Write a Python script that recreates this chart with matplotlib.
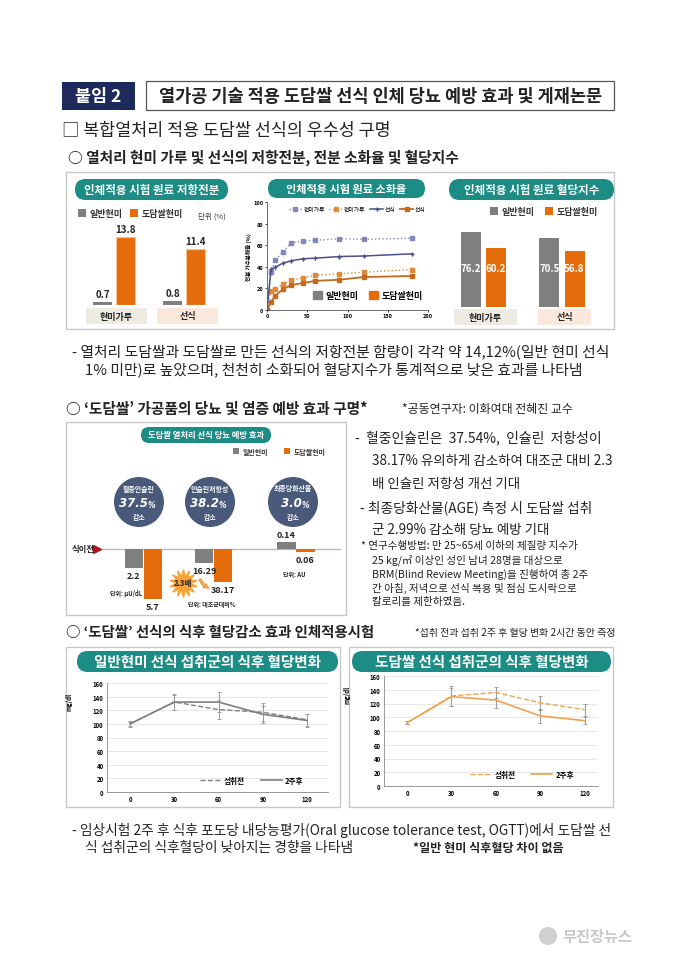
import matplotlib
matplotlib.use("Agg")
import matplotlib.pyplot as plt
from matplotlib.patches import FancyBboxPatch, Rectangle, Circle, Patch
from matplotlib.lines import Line2D

plt.rcParams['font.family'] = ['Noto Sans CJK KR', 'DejaVu Sans']

W, H = 680, 962
TEAL = '#1c8c84'
GRAY = '#7f7f7f'
ORANGE = '#e46c0a'
NAVY = '#1f2a5c'
CIRC = '#48597a'
DARK = '#222222'

# ---- data ----
rs_groups = ['현미가루', '선식']
rs_normal = [0.7, 0.8]
rs_dodam = [13.8, 11.4]

dig_t = [0, 5, 10, 20, 30, 45, 60, 90, 120, 180]
dig_powder_normal = [0, 35, 46, 54, 62, 64, 64.5, 66, 65.5, 66.5]
dig_sunsik_normal = [0, 38, 39.5, 43.5, 45.5, 47.5, 48, 49.5, 50, 52]
dig_powder_dodam = [0, 18, 19, 24, 27.5, 30, 32, 33.5, 35, 37.5]
dig_sunsik_dodam = [0, 7.5, 13, 19.5, 23, 25, 27, 28, 30.5, 31.5]

gi_groups = ['현미가루', '선식']
gi_normal = [76.2, 70.5]
gi_dodam = [60.2, 56.8]

eff_names = ['혈중인슐린', '인슐린저항성', '최종당화산물']
eff_pct = ['37.5', '38.2', '3.0']
eff_normal = [-2.2, -16.29, 0.14]
eff_dodam = [-5.7, -38.17, -0.06]
eff_units = ['단위: μU/dL', '단위: 대조군대비%', '단위: AU']

ogtt_t = ['0', '30', '60', '90', '120']
ogtt_n_before = [100, 132, 121, 117, 106]
ogtt_n_before_err = [3, 11, 14, 13, 9]
ogtt_n_after = [100, 132, 132, 114, 105]
ogtt_n_after_err = [4, 12, 15, 12, 9]
ogtt_d_before = [92, 131, 136, 121, 111]
ogtt_d_before_err = [2, 14, 8, 10, 9]
ogtt_d_after = [92, 130, 125, 102, 95]
ogtt_d_after_err = [2, 13, 12, 10, 5]

fig = plt.figure(figsize=(6.8, 9.62), dpi=100)
bg = fig.add_axes([0, 0, 1, 1])
bg.set_xlim(0, W)
bg.set_ylim(H, 0)
bg.axis('off')


def pax(x, y, w, h):
    ax = fig.add_axes([x / W, 1 - (y + h) / H, w / W, h / H])
    ax.set_facecolor('none')
    return ax


def pill(x0, y0, x1, y1, text, fs):
    r = (y1 - y0) / 2
    bg.add_patch(FancyBboxPatch((x0, y0), x1 - x0, y1 - y0,
                                boxstyle=f"round,pad=0,rounding_size={r}",
                                fc=TEAL, ec='none'))
    bg.text((x0 + x1) / 2, (y0 + y1) / 2, text, color='white', fontsize=fs,
            fontweight='bold', ha='center', va='center')


def box(x0, y0, x1, y1, ec='#c8c8c8', lw=1.0, fc='none'):
    bg.add_patch(Rectangle((x0, y0), x1 - x0, y1 - y0, fc=fc, ec=ec, lw=lw))


def legend_sq(x, y, color, label, fs, size=8):
    bg.add_patch(Rectangle((x, y - size / 2), size, size, fc=color, ec='none'))
    bg.text(x + size + 4, y, label, fontsize=fs, fontweight='bold', color='#333333',
            ha='left', va='center')


def txt(x, y, s, fs, **kw):
    kw.setdefault('ha', 'left')
    kw.setdefault('va', 'center')
    kw.setdefault('color', DARK)
    bg.text(x, y, s, fontsize=fs, **kw)


# ---- header ----
bg.add_patch(Rectangle((62, 83), 73, 28, fc=NAVY, ec='none'))
txt(98.5, 97, '붙임 2', 12.5, color='white', fontweight='bold', ha='center')
box(146, 82, 614, 111, ec='#555555', lw=0.9, fc='white')
txt(381, 96.5, '열가공 기술 적용 도담쌀 선식 인체 당뇨 예방 효과 및 게재논문', 12.6,
    fontweight='bold', ha='center')

txt(62, 131, '□ 복합열처리 적용 도담쌀 선식의 우수성 구명', 12.5)
txt(68, 158, '○ 열처리 현미 가루 및 선식의 저항전분, 전분 소화율 및 혈당지수', 10.6,
    fontweight='bold')

# ---- panel 1 ----
box(66, 173, 614, 330)

# resistant starch
pill(75, 180, 228, 201, '인체적용 시험 원료 저항전분', 8.3)
legend_sq(78, 214, GRAY, '일반현미', 6.5)
legend_sq(130, 214, ORANGE, '도담쌀현미', 6.5)
txt(198, 217, '단위 (%)', 5.5, color='#333333')
ax1 = pax(80, 225, 140, 81)
xs = range(len(rs_groups))
b1 = ax1.bar([x - 0.165 for x in xs], rs_normal, width=0.27, color=GRAY)
b2 = ax1.bar([x + 0.165 for x in xs], rs_dodam, width=0.27, color=ORANGE,
             edgecolor='#f5c49a', lw=0.8)
for bars, vals in ((b1, rs_normal), (b2, rs_dodam)):
    for b, v in zip(bars, vals):
        ax1.annotate(f'{v}', (b.get_x() + b.get_width() / 2, v), xytext=(0, 2),
                     textcoords='offset points', ha='center', va='bottom',
                     fontsize=7, fontweight='bold', color=DARK)
ax1.set_xlim(-0.49, 1.51)
ax1.set_ylim(0, 16.4)
ax1.axis('off')
ax1.axhline(0, color='#bbbbbb', lw=0.8)
box(86, 309, 147, 325, ec='none', fc='#eeebe2')
box(157, 309, 218, 325, ec='none', fc='#fbe8dd')
txt(116.5, 317, rs_groups[0], 6.5, ha='center', fontweight='bold')
txt(187.5, 317, rs_groups[1], 6.5, ha='center', fontweight='bold')

# digestibility
pill(268, 180, 425, 199, '인체적용 시험 원료 소화율', 8.0)
ax2 = pax(267, 203, 161, 108)
l1, = ax2.plot(dig_t, dig_powder_normal, ls=':', color='#8587bd', marker='s',
               ms=2.5, lw=1.0)
l2, = ax2.plot(dig_t, dig_powder_dodam, ls=':', color='#e0893a', marker='s',
               ms=2.5, lw=1.0)
ax2.errorbar(dig_t, dig_sunsik_normal, yerr=2, color='#4d4f8c', marker='+',
             ms=3, lw=1.1, elinewidth=0.6, capsize=0)
l4, = ax2.plot(dig_t, dig_sunsik_dodam, ls='-', color='#c46a1e', marker='s',
               ms=2.5, lw=1.3)
ax2.set_xlim(0, 200)
ax2.set_ylim(0, 100)
ax2.set_xticks([0, 50, 100, 150, 200])
ax2.set_yticks([0, 20, 40, 60, 80, 100])
ax2.tick_params(labelsize=4, length=1.5, width=0.5, pad=1)
for lab in ax2.get_xticklabels() + ax2.get_yticklabels():
    lab.set_fontweight('bold')
for s in ['top', 'right']:
    ax2.spines[s].set_visible(False)
for s in ['left', 'bottom']:
    ax2.spines[s].set_color('#555555')
    ax2.spines[s].set_linewidth(0.6)
ax2.set_ylabel('전분 가수분해율 (%)', fontsize=4, fontweight='bold', labelpad=1)
leg1 = ax2.legend([l1, l2, Line2D([], [], color='#4d4f8c', marker='+', ms=3, lw=1.1), l4],
                  ['현미가루', '현미가루', '선식', '선식'], loc='upper center',
                  bbox_to_anchor=(0.56, 1.0), ncol=4, fontsize=4.2, frameon=False,
                  handlelength=2.2, columnspacing=0.8, handletextpad=0.3)
ax2.add_artist(leg1)
ax2.legend([Patch(color=GRAY), Patch(color=ORANGE)], ['일반현미', '도담쌀현미'],
           loc='lower right', bbox_to_anchor=(1.02, 0.02), ncol=2,
           prop={'size': 6.5, 'weight': 'bold'}, frameon=False,
           handlelength=1.0, handleheight=1.0, columnspacing=1.2, handletextpad=0.4)

# glycemic index
pill(449, 180, 614, 201, '인체적용 시험 원료 혈당지수', 8.3)
legend_sq(490, 212, GRAY, '일반현미', 6.5)
legend_sq(545, 212, ORANGE, '도담쌀현미', 6.5)
ax3 = pax(452, 220, 148, 88)
xs = range(len(gi_groups))
g1 = ax3.bar([x - 0.16 for x in xs], gi_normal, width=0.255, color=GRAY)
g2 = ax3.bar([x + 0.16 for x in xs], gi_dodam, width=0.255, color=ORANGE)
for bars, vals in ((g1, gi_normal), (g2, gi_dodam)):
    for b, v in zip(bars, vals):
        ax3.text(b.get_x() + b.get_width() / 2, 40, f'{v}', ha='center',
                 va='center', fontsize=7, fontweight='bold', color='white')
ax3.set_xlim(-0.40, 1.484)
ax3.set_ylim(0, 89.8)
ax3.axis('off')
box(454, 310, 517, 326, ec='none', fc='#eeebe2')
box(538, 310, 591, 326, ec='none', fc='#fbe8dd')
txt(485.5, 318, gi_groups[0], 6.5, ha='center', fontweight='bold')
txt(564.5, 318, gi_groups[1], 6.5, ha='center', fontweight='bold')

txt(72, 352, '- 열처리 도담쌀과 도담쌀로 만든 선식의 저항전분 함량이 각각 약 14,12%(일반 현미 선식', 10.7)
txt(85, 370, '1% 미만)로 높았으며, 천천히 소화되어 혈당지수가 통계적으로 낮은 효과를 나타냄', 10.7)

# ---- panel 2 ----
txt(66, 409, "○ ‘도담쌀’ 가공품의 당뇨 및 염증 예방 효과 구명*", 10.6, fontweight='bold')
txt(402, 410, '*공동연구자: 이화여대 전혜진 교수', 8.6)
box(66, 423, 346, 616)
pill(141, 428, 271, 444, '도담쌀 열처리 선식 당뇨 예방 효과', 6)
legend_sq(233, 452, GRAY, '일반현미', 5, size=6)
legend_sq(284, 452, ORANGE, '도담쌀현미', 5, size=6)

centers = [139, 210, 293]
for cx, name, pct in zip(centers, eff_names, eff_pct):
    bg.add_patch(Circle((cx, 503), 25, fc=CIRC, ec='none'))
    txt(cx, 489, name, 5, color='white', ha='center', fontweight='bold')
    txt(cx + 9, 504, pct, 8.5, color='white', ha='right', fontweight='bold',
        fontstyle='italic', family='DejaVu Sans')
    txt(cx + 9, 506, '%', 5.5, color='white', ha='left', fontweight='bold',
        fontstyle='italic', family='DejaVu Sans')
    txt(cx, 518, '감소', 5, color='white', ha='center', fontweight='bold')

bg.plot([102, 340], [550, 550], color='#d4a8a8', lw=0.9)
bg.plot([97], [550], marker='>', ms=6, color='#b0141c')
txt(72, 550, '식이전', 6, fontweight='bold')

scales = [8.8, 0.86, 50]
gray_centers = [134, 204, 286.5]
for i in range(3):
    s = scales[i]
    axb = pax(gray_centers[i] - 19, 525, 57, 87)
    axb.bar([0], [eff_normal[i]], width=0.95, color=GRAY)
    axb.bar([1], [eff_dodam[i]], width=0.95, color=ORANGE)
    axb.set_xlim(-1, 2)
    axb.set_ylim(-62 / s, 25 / s)
    axb.axis('off')
    for xx, v in ((0, eff_normal[i]), (1, eff_dodam[i])):
        off = 2 if v > 0 else -2
        axb.annotate(f'{abs(v)}', (xx, v), xytext=(0, off), textcoords='offset points',
                     ha='center', va='bottom' if v > 0 else 'top', fontsize=6.5,
                     fontweight='bold', color=DARK)

txt(110, 594, eff_units[0], 4.3, fontweight='bold')
txt(188, 605, eff_units[1], 4.3, fontweight='bold')
txt(283, 575, eff_units[2], 4.3, fontweight='bold')
bg.plot([183], [584], marker=(14, 1, 0), ms=20, color='#f5a33a', mec='#f5a33a')
txt(183, 584, '2.3배', 5.5, ha='center', fontweight='bold')
bg.annotate('', xy=(213, 590), xytext=(199, 577),
            arrowprops=dict(arrowstyle='simple,head_width=0.5,head_length=0.5,tail_width=0.25',
                            color='#f2a04a', connectionstyle='arc3,rad=0.35', lw=0))

txt(355, 438, '-  혈중인슐린은  37.54%,  인슐린  저항성이', 10.0)
txt(372, 461, '38.17% 유의하게 감소하여 대조군 대비 2.3', 9.7)
txt(372, 484, '배 인슐린 저항성 개선 기대', 9.7)
txt(360, 508, '- 최종당화산물(AGE) 측정 시 도담쌀 섭취', 9.9)
txt(372, 530, '군 2.99% 감소해 당뇨 예방 기대', 9.7)
txt(361, 546, '* 연구수행방법: 만 25~65세 이하의 체질량 지수가', 7.6)
txt(372, 560, '25 kg/㎡ 이상인 성인 남녀 28명을 대상으로', 7.6)
txt(372, 574, 'BRM(Blind Review Meeting)을 진행하여 총 2주', 7.6)
txt(372, 588, '간 아침, 저녁으로 선식 복용 및 점심 도시락으로', 7.6)
txt(372, 602, '칼로리를 제한하였음.', 7.6)

# ---- panel 3 ----
txt(66, 633, "○ ‘도담쌀’ 선식의 식후 혈당감소 효과 인체적용시험", 10.4, fontweight='bold')
txt(415, 633, '*섭취 전과 섭취 2주 후 혈당 변화 2시간 동안 측정', 7.2)
box(66, 648, 340, 808)
box(349, 648, 613, 808)
pill(77, 652, 338, 673, '일반현미 선식 섭취군의 식후 혈당변화', 10.5)
pill(352, 652, 611, 673, '도담쌀 선식 섭취군의 식후 혈당변화', 10.5)


def ogtt(ax, before, berr, after, aerr, color, right):
    xs = range(len(ogtt_t))
    ax.errorbar(xs, before, yerr=berr, color=color, ls='--', lw=1.0,
                ecolor='#999999', elinewidth=0.7, capsize=1.5, capthick=0.6)
    ax.errorbar(xs, after, yerr=aerr, color=color, ls='-', lw=1.2,
                ecolor='#999999', elinewidth=0.7, capsize=1.5, capthick=0.6)
    ax.set_xlim(-0.52, right)
    ax.set_ylim(0, 160)
    ax.set_yticks(range(0, 161, 20))
    ax.set_xticks(list(xs))
    ax.set_xticklabels(ogtt_t)
    ax.grid(axis='y', color='#dddddd', lw=0.5)
    ax.set_axisbelow(True)
    ax.tick_params(labelsize=4.3, length=0, pad=2.5)
    for lab in ax.get_xticklabels() + ax.get_yticklabels():
        lab.set_fontweight('bold')
    for s in ['top', 'right']:
        ax.spines[s].set_visible(False)
    for s in ['left', 'bottom']:
        ax.spines[s].set_color('#888888')
        ax.spines[s].set_linewidth(0.6)
    ax.set_ylabel('mg/dl', fontsize=4.5, fontweight='bold')
    ax.yaxis.set_label_coords(-0.155, 0.84)
    handles = [Line2D([], [], color=color, ls='--', lw=1.0),
               Line2D([], [], color=color, ls='-', lw=1.2)]
    ax.legend(handles, ['섭취전', '2주후'], loc='lower right', bbox_to_anchor=(0.92, 0.0),
              ncol=2, prop={'size': 5.5, 'weight': 'bold'}, frameon=False,
              handlelength=2.8, columnspacing=2.0, handletextpad=0.4)


ax4 = pax(107, 684, 221, 109)
ogtt(ax4, ogtt_n_before, ogtt_n_before_err, ogtt_n_after, ogtt_n_after_err, GRAY, 4.47)
ax5 = pax(384, 677, 214, 110)
ogtt(ax5, ogtt_d_before, ogtt_d_before_err, ogtt_d_after, ogtt_d_after_err, '#f0a24e', 4.3)

txt(72, 830, '- 임상시험 2주 후 식후 포도당 내당능평가(Oral glucose tolerance test, OGTT)에서 도담쌀 선', 9.9)
txt(85, 848, '식 섭취군의 식후혈당이 낮아지는 경향을 나타냄', 9.9)
txt(413, 848, '*일반 현미 식후혈당 차이 없음', 8.7, fontweight='bold')

# watermark
bg.add_patch(Circle((548, 937), 9, fc='#d0d0d0', ec='none'))
txt(562, 937, '무진장뉴스', 11, color='#c8c8c8', fontweight='bold')

fig.savefig('out.png', dpi=100)
